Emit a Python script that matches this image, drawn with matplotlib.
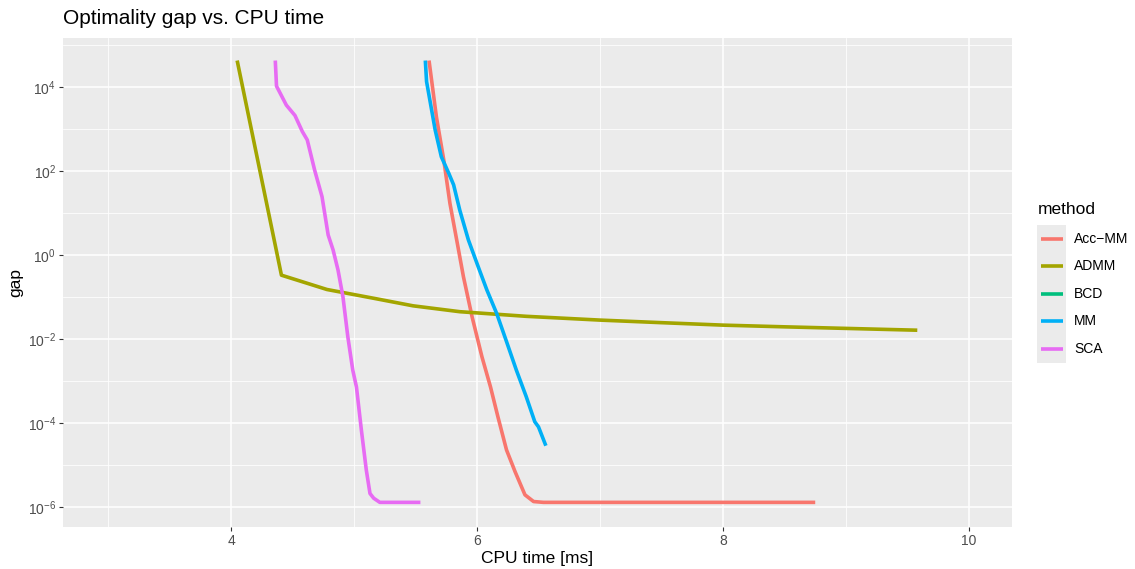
import numpy as np
import matplotlib
matplotlib.use("Agg")
import matplotlib.pyplot as plt
from matplotlib.lines import Line2D
from matplotlib.patches import Rectangle

plt.rcParams['font.family'] = ['Liberation Sans', 'DejaVu Sans']
plt.rcParams['mathtext.fontset'] = 'custom'
plt.rcParams['mathtext.rm'] = 'Liberation Sans'
plt.rcParams['mathtext.it'] = 'Liberation Sans'
plt.rcParams['mathtext.default'] = 'regular'

# ---- data ----
methods = ["Acc\u2212MM", "ADMM", "BCD", "MM", "SCA"]
colors = ["#F8766D", "#A3A500", "#00BF7D", "#00B0F6", "#E76BF3"]

accmm_time = [5.61, 5.67, 5.73, 5.78, 5.84, 5.89, 5.96, 6.04, 6.11, 6.17, 6.24, 6.31, 6.39, 6.46, 6.54, 8.75]
accmm_gap = [4.27e4, 1.95e3, 1.82e2, 1.7e1, 1.9, 0.302, 0.0339, 3.8e-3, 7.2e-4, 1.41e-4, 2.29e-5, 6.9e-6, 1.95e-6, 1.35e-6, 1.29e-6, 1.29e-6]

admm_time = [4.05, 4.41, 4.78, 5.16, 5.48, 5.86, 6.4, 7.0, 7.5, 8.0, 8.5, 9.03, 9.58]
admm_gap = [4.27e4, 0.331, 0.151, 0.0933, 0.0617, 0.0447, 0.0347, 0.0282, 0.0245, 0.0214, 0.0195, 0.0178, 0.0162]

bcd_time = []
bcd_gap = []

mm_time = [5.58, 5.59, 5.66, 5.71, 5.77, 5.81, 5.86, 5.93, 6.01, 6.08, 6.16, 6.24, 6.32, 6.40, 6.47, 6.50, 6.56]
mm_gap = [4.27e4, 1.35e4, 9.5e2, 2.19e2, 8.9e1, 4.68e1, 1.17e1, 2.29, 0.525, 0.148, 0.0407, 8.7e-3, 1.82e-3, 4.27e-4, 1.07e-4, 8.1e-5, 2.88e-5]

sca_time = [4.36, 4.37, 4.45, 4.52, 4.58, 4.62, 4.68, 4.74, 4.79, 4.83, 4.87, 4.91, 4.95, 4.99, 5.02, 5.06, 5.10, 5.13, 5.16, 5.21, 5.54]
sca_gap = [4.27e4, 1.05e4, 3.7e3, 2.1e3, 8.7e2, 5.5e2, 1.05e2, 2.45e1, 3.0, 1.32, 0.44, 0.102, 1.12e-2, 1.82e-3, 7.2e-4, 6.8e-5, 7.6e-6, 2.1e-6, 1.62e-6, 1.29e-6, 1.29e-6]

x_ticks = [4, 6, 8, 10]
x_minor = [3, 5, 7, 9]
y_ticks = [1e-6, 1e-4, 1e-2, 1e0, 1e2, 1e4]
y_minor = [1e-5, 1e-3, 1e-1, 1e1, 1e3, 1e5]
y_ticklabels = [r"$10^{-6}$", r"$10^{-4}$", r"$10^{-2}$", r"$10^{0}$", r"$10^{2}$", r"$10^{4}$"]

series = [(accmm_time, accmm_gap), (admm_time, admm_gap), (bcd_time, bcd_gap),
          (mm_time, mm_gap), (sca_time, sca_gap)]

# ---- figure ----
W, H = 1135, 569
fig = plt.figure(figsize=(W / 100, H / 100), dpi=100)
L, R, T, B = 63, 1012, 38, 527
ax = fig.add_axes([L / W, 1 - B / H, (R - L) / W, (B - T) / H])
ax.set_facecolor("#EBEBEB")
for s in ax.spines.values():
    s.set_visible(False)

ax.set_yscale('log')
ax.set_xlim(2.634, 10.35)
ax.set_ylim(10 ** -6.476, 10 ** 5.167)

ax.set_xticks(x_ticks)
ax.set_xticks(x_minor, minor=True)
ax.set_yticks(y_ticks)
ax.set_yticklabels(y_ticklabels)
ax.set_yticks(y_minor, minor=True)
ax.yaxis.set_minor_formatter(matplotlib.ticker.NullFormatter())

ax.grid(which='major', color='white', linewidth=1.1)
ax.grid(which='minor', color='white', linewidth=0.55)
ax.set_axisbelow(True)
ax.tick_params(which='major', length=3, width=0.8, color='#333333',
               labelcolor='#4D4D4D', labelsize=10, pad=2)
ax.tick_params(which='minor', length=0)

for (t, g), c in zip(series, colors):
    if len(t):
        ax.plot(t, g, color=c, linewidth=2.6, solid_capstyle='butt', solid_joinstyle='round')

ax.set_xlabel("CPU time [ms]", fontsize=12.5, color='black', labelpad=2)
ax.set_ylabel("gap", fontsize=12.5, color='black', labelpad=3)
fig.text(L / W, 1 - 18 / H, "Optimality gap vs. CPU time", fontsize=15,
         ha='left', va='center', color='black')

# ---- legend ----
fig.text(1038 / W, 1 - 209 / H, "method", fontsize=12.5, ha='left', va='center')
key_top = 225
key_h = 27.5
key_x0, key_x1 = 1037, 1066
for i, (m, c) in enumerate(zip(methods, colors)):
    y0 = key_top + i * key_h
    fig.patches.append(Rectangle((key_x0 / W, 1 - (y0 + key_h) / H),
                                 (key_x1 - key_x0) / W, key_h / H,
                                 transform=fig.transFigure, facecolor="#EBEBEB",
                                 edgecolor='none'))
    yc = 1 - (y0 + key_h / 2) / H
    fig.lines.append(Line2D([(key_x0 + 3.5) / W, (key_x1 - 3.5) / W], [yc, yc],
                            transform=fig.transFigure, color=c, linewidth=2.6,
                            solid_capstyle='butt'))
    fig.text(1074 / W, yc, m, fontsize=10, ha='left', va='center', color='black')

fig.savefig("out.png", dpi=100)
